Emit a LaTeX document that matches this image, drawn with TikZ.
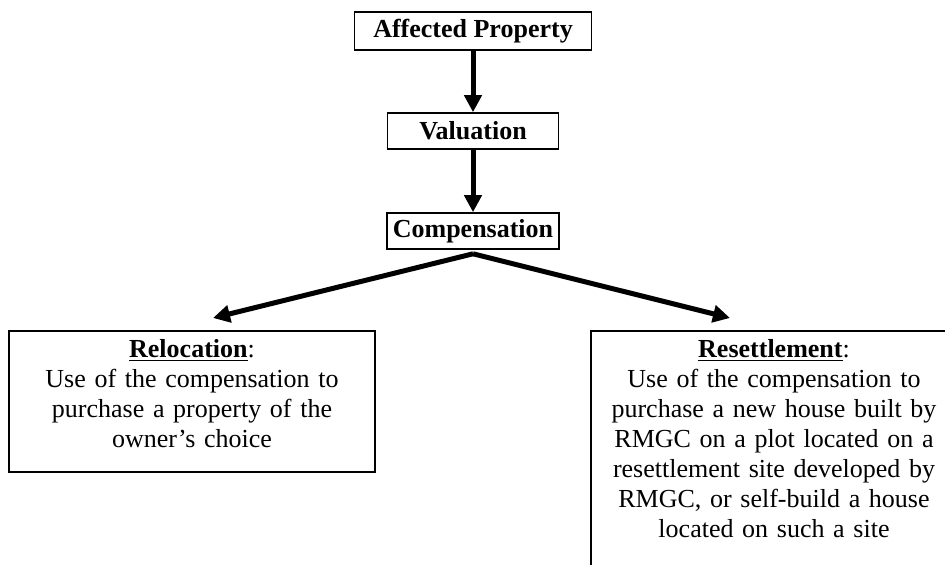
\documentclass[tikz,border=0pt]{standalone}
\usepackage{fontspec}
\setmainfont{Liberation Serif}
\usetikzlibrary{arrows.meta}

\tikzset{
  stagebox/.style={draw, line width=0.8pt, inner sep=0pt, font=\bfseries},
  optionbox/.style={draw, line width=0.8pt, anchor=north, align=center, text width=175pt, inner xsep=4pt, inner ysep=4.5pt, text height=9pt},
  flow/.style={-{Triangle[length=8.5pt,width=8.5pt]}, line width=2.5pt}
}

\begin{document}
\begin{tikzpicture}[x=0.5pt,y=-0.5pt]
    \fontsize{13}{15}\selectfont
    \useasboundingbox (0,0) rectangle (945,565);
    \clip (0,0) rectangle (945,565);

    \node[stagebox, minimum width=118.5pt, minimum height=19pt] (affected) at (473,31) {Affected Property};
    \node[stagebox, minimum width=85.5pt, minimum height=18pt] (valuation) at (473,131) {Valuation};
    \node[stagebox, minimum width=86pt, minimum height=18pt] (compensation) at (473,231) {Compensation};

    \node[optionbox, text depth=52.5pt] (relocation) at (192,330) {\underline{\textbf{Relocation}}:\\ Use of the compensation to\\ purchase a property of the\\ owner's choice};
    \node[optionbox, text depth=120pt] (resettlement) at (774,330) {\underline{\textbf{Resettlement}}:\\ Use of the compensation to\\ purchase a new house built by\\ RMGC on a plot located on a\\ resettlement site developed by\\ RMGC, or self-build a house\\ located on such a site};

    \coordinate (split) at ([yshift=-2pt]compensation.south);
    \draw[flow] (affected) -- (valuation);
    \draw[flow] (valuation) -- (compensation);
    \draw[flow] (split) -- ([xshift=10.5pt,yshift=6pt]relocation.north);
    \draw[flow] (split) -- ([xshift=-22pt,yshift=6pt]resettlement.north);
\end{tikzpicture}
\end{document}
